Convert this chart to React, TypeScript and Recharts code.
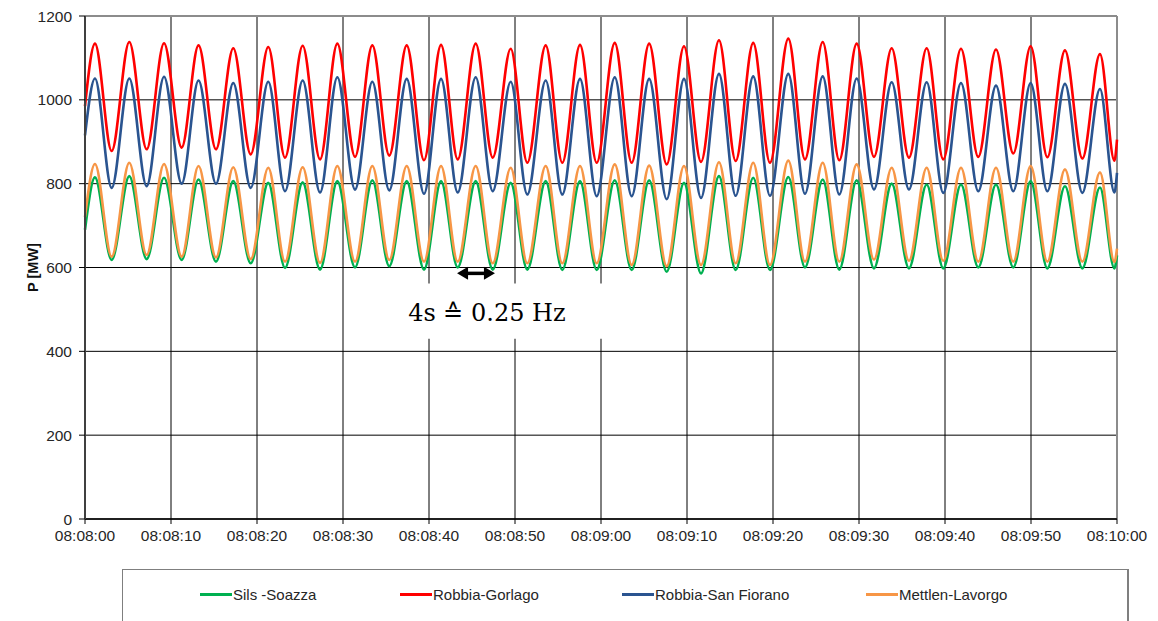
import React from 'react';
import {
  LineChart, Line, XAxis, YAxis, CartesianGrid, ReferenceLine, ReferenceArea, Label,
} from 'recharts';

// Time in seconds after 08:08:00 (peaks / troughs of the oscillation)
const times = [0, 1.16, 3.1, 5.15, 7.17, 9.19, 11.24, 13.2, 15.23, 17.24, 19.27, 21.31, 23.26, 25.31, 27.33, 29.34, 31.4, 33.41, 35.38, 37.41, 39.42, 41.4, 43.34, 45.43, 47.41, 49.5, 51.43, 53.57, 55.5, 57.56, 59.5, 61.6, 63.57, 65.6, 67.64, 69.65, 71.63, 73.72, 75.66, 77.7, 79.65, 81.78, 83.72, 85.78, 87.71, 89.73, 91.74, 93.8, 95.81, 97.87, 99.8, 101.86, 103.87, 105.93, 107.94, 109.96, 111.9, 113.95, 115.97, 118.02, 119.7, 120];

const silsSoazza = [690, 815, 618, 818, 620, 814, 618, 810, 614, 806, 610, 802, 599, 803, 595, 806, 600, 808, 603, 806, 595, 806, 600, 806, 595, 802, 595, 806, 594, 806, 594, 808, 594, 808, 590, 802, 586, 818, 594, 814, 594, 816, 600, 810, 595, 808, 598, 800, 598, 798, 598, 798, 600, 798, 600, 806, 598, 794, 598, 791, 598, 629];

const robbiaGorlago = [985, 1134, 878, 1138, 882, 1135, 886, 1130, 882, 1123, 870, 1126, 862, 1129, 858, 1134, 864, 1130, 867, 1130, 856, 1131, 858, 1134, 862, 1122, 850, 1130, 850, 1131, 850, 1136, 850, 1134, 846, 1128, 852, 1142, 854, 1136, 850, 1146, 858, 1138, 856, 1134, 864, 1123, 862, 1123, 858, 1122, 864, 1120, 872, 1128, 863, 1118, 860, 1109, 855, 905];

const robbiaSanFiorano = [915, 1051, 790, 1051, 794, 1055, 800, 1046, 800, 1040, 790, 1043, 782, 1046, 779, 1054, 786, 1043, 784, 1050, 776, 1050, 779, 1054, 782, 1043, 774, 1046, 774, 1050, 770, 1054, 770, 1050, 763, 1050, 766, 1062, 771, 1056, 771, 1062, 776, 1056, 774, 1051, 786, 1042, 786, 1042, 778, 1040, 782, 1034, 782, 1040, 782, 1038, 778, 1026, 779, 826];

const mettlenLavorgo = [720, 847, 626, 850, 630, 847, 626, 842, 624, 839, 620, 838, 614, 839, 611, 842, 614, 842, 618, 842, 614, 842, 614, 842, 610, 838, 610, 842, 610, 842, 610, 846, 606, 843, 603, 842, 606, 851, 610, 850, 606, 855, 614, 850, 614, 846, 619, 838, 616, 838, 616, 838, 614, 838, 614, 842, 614, 834, 614, 827, 613, 645];

const xTicks = [0, 10, 20, 30, 40, 50, 60, 70, 80, 90, 100, 110, 120];
const xTickLabels = ['08:08:00', '08:08:10', '08:08:20', '08:08:30', '08:08:40', '08:08:50', '08:09:00', '08:09:10', '08:09:20', '08:09:30', '08:09:40', '08:09:50', '08:10:00'];
const yTicks = [0, 200, 400, 600, 800, 1000, 1200];

const seriesNames = ['Sils -Soazza', 'Robbia-Gorlago', 'Robbia-San Fiorano', 'Mettlen-Lavorgo'];
const seriesColors = ['#00b050', '#ff0000', '#2a5490', '#f79646'];
const seriesKeys = ['sils', 'gorlago', 'fiorano', 'mettlen'];

const data = times.map((t, i) => ({
  t,
  sils: silsSoazza[i],
  gorlago: robbiaGorlago[i],
  fiorano: robbiaSanFiorano[i],
  mettlen: mettlenLavorgo[i],
}));

const tickFont = { fontFamily: 'Liberation Sans, Arial, sans-serif', fontSize: 15.5, fill: '#262626' };

const YLabel = (props: any) => {
  const vb = props.viewBox || { x: 0, y: 16, width: 85, height: 503 };
  const cx = vb.x + 33;
  const cy = vb.y + vb.height / 2;
  return (
    <text
      x={cx}
      y={cy}
      transform={`rotate(-90, ${cx}, ${cy})`}
      textAnchor="middle"
      dominantBaseline="central"
      style={{ fontFamily: 'Liberation Sans, Arial, sans-serif', fontSize: 14.5, fontWeight: 700, fill: '#111' }}
    >
      P [MW]
    </text>
  );
};

const NoteLabel = (props: any) => {
  const vb = props.viewBox || { x: 0, y: 0 };
  return (
    <text
      x={vb.x + 5}
      y={vb.y + 38}
      style={{ fontFamily: 'DejaVu Serif, Liberation Serif, serif', fontSize: 24, fill: '#000' }}
    >
      4s ≙ 0.25 Hz
    </text>
  );
};

const Arrow = (props: any) => {
  const { x1, y1, x2, y2 } = props;
  if (x1 == null) return null;
  const h = 11;
  return (
    <g>
      <line x1={x1 + h - 1} y1={y1} x2={x2 - h + 1} y2={y2} stroke="#000" strokeWidth={3.5} />
      <polygon points={`${x1},${y1} ${x1 + h},${y1 - 6.5} ${x1 + h},${y1 + 6.5}`} fill="#000" />
      <polygon points={`${x2},${y2} ${x2 - h},${y2 - 6.5} ${x2 - h},${y2 + 6.5}`} fill="#000" />
    </g>
  );
};

const legendPositions = [200, 400, 622, 866];

export default function App() {
  return (
    <div style={{ position: 'absolute', left: 0, top: 0, width: 1158, height: 621, background: '#fff', overflow: 'hidden' }}>
      <LineChart
        width={1158}
        height={560}
        data={data}
        margin={{ top: 16, right: 41, left: 0, bottom: 11 }}
      >
        <CartesianGrid stroke="#000" strokeWidth={1} horizontalValues={yTicks} verticalValues={xTicks} />
        <XAxis
          dataKey="t"
          type="number"
          domain={[0, 120]}
          ticks={xTicks}
          interval={0}
          tickFormatter={(v: number) => xTickLabels[xTicks.indexOf(v)]}
          height={30}
          tickSize={5}
          tickMargin={6}
          tick={tickFont}
          axisLine={{ stroke: '#000', strokeWidth: 1.5 }}
          tickLine={{ stroke: '#000' }}
        />
        <YAxis
          type="number"
          domain={[0, 1200]}
          ticks={yTicks}
          interval={0}
          width={85}
          tickSize={6}
          tickMargin={7}
          tick={tickFont}
          axisLine={{ stroke: '#404040', strokeWidth: 2 }}
          tickLine={{ stroke: '#000' }}
        >
          <Label content={<YLabel />} />
        </YAxis>
        <ReferenceLine y={1200} stroke="#8c8c8c" strokeWidth={2} />
        <ReferenceLine x={120} stroke="#8c8c8c" strokeWidth={2} />
        <ReferenceArea
          x1={37}
          x2={61}
          y1={430}
          y2={562}
          fill="#ffffff"
          fillOpacity={1}
          stroke="none"
          label={<NoteLabel />}
        />
        <ReferenceLine
          segment={[{ x: 43.26, y: 586 }, { x: 47.67, y: 586 }]}
          shape={<Arrow />}
        />
        {seriesKeys.map((k, i) => (
          <Line
            key={k}
            dataKey={k}
            name={seriesNames[i]}
            type="monotone"
            stroke={seriesColors[i]}
            strokeWidth={2.6}
            dot={false}
            activeDot={false}
            isAnimationActive={false}
          />
        ))}
      </LineChart>
      <div
        style={{
          position: 'absolute',
          left: 122,
          top: 569,
          width: 1004,
          height: 70,
          border: '1px solid #7f7f7f',
          borderRightWidth: 2,
          background: '#fff',
        }}
      />
      {seriesNames.map((n, i) => (
        <div
          key={n}
          style={{
            position: 'absolute',
            left: legendPositions[i],
            top: 585,
            height: 18,
            display: 'flex',
            alignItems: 'center',
            fontFamily: 'Liberation Sans, Arial, sans-serif',
            fontSize: 15,
            color: '#262626',
            whiteSpace: 'nowrap',
          }}
        >
          <span style={{ display: 'inline-block', width: 32, height: 3, background: seriesColors[i] }} />
          <span style={{ marginLeft: 1 }}>{n}</span>
        </div>
      ))}
    </div>
  );
}
